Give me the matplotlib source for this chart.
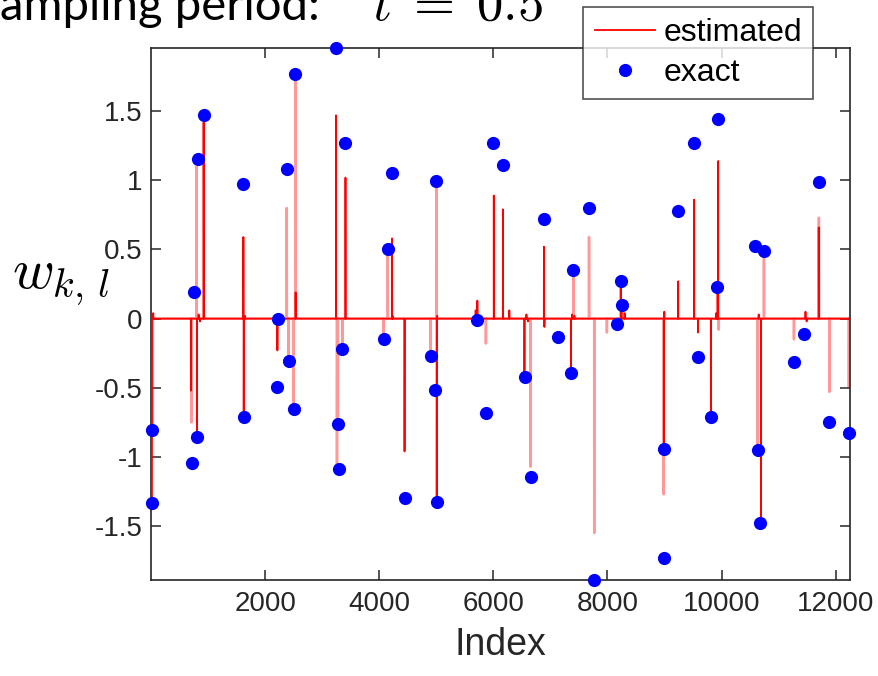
import numpy as np
import matplotlib
matplotlib.use("Agg")
import matplotlib.pyplot as plt
from matplotlib.lines import Line2D

plt.rcParams['font.family'] = ['Liberation Sans', 'DejaVu Sans']
plt.rcParams['mathtext.fontset'] = 'cm'
plt.rcParams['axes.unicode_minus'] = False

# ---- data ----
n_samples = 12250

exact_idx = [15, 25, 720, 760, 807, 830, 923, 1615, 1625, 2210, 2228, 2390, 2426,
             2508, 2526, 3243, 3274, 3291, 3356, 3409, 4081, 4152, 4216, 4449,
             4900, 4982, 5000, 5005, 5707, 5865, 6000, 6168, 6550, 6655, 6888,
             7133, 7361, 7403, 7677, 7765, 8175, 8233, 8263, 8982, 8994, 9239,
             9519, 9579, 9812, 9923, 9940, 10584, 10632, 10677, 10742, 11268,
             11444, 11702, 11888, 12233]
exact_val = [-0.805, -1.33, -1.046, 0.19, -0.853, 1.155, 1.47, 0.97, -0.71, -0.495,
             0.0, 1.084, -0.307, -0.655, 1.77, 1.957, -0.76, -1.09, -0.216, 1.27,
             -0.147, 0.50, 1.053, -1.294, -0.27, -0.515, 0.997, -1.327, -0.013,
             -0.685, 1.27, 1.11, -0.42, -1.147, 0.72, -0.13, -0.39, 0.35, 0.80,
             -1.89, -0.038, 0.27, 0.096, -0.944, -1.73, 0.78, 1.27, -0.28, -0.71,
             0.23, 1.447, 0.528, -0.947, -1.475, 0.49, -0.317, -0.109, 0.99,
             -0.749, -0.825]

# strong (solid) estimated spikes
est_idx = [10, 700, 807, 923, 1620, 1626, 2216, 3243, 3409, 4225, 4444, 5008,
           5720, 6008, 6168, 6545, 6886, 6895, 7360, 8232, 8990, 9239, 9519,
           9585, 9812, 9930, 9940, 10690, 11702,
           40, 835, 860, 1650, 2535, 4235, 5015, 5690, 6280, 6580, 6610, 7380,
           7420, 8245, 8300, 8996, 9905, 10650, 11470, 11490]
est_val = [-1.30, -0.52, -0.85, 1.42, 0.59, -0.71, -0.23, 1.47, 1.02, 0.58, -0.96,
           -1.31, 0.13, 0.89, 0.79, -0.42, 0.52, -0.06, -0.39, 0.22, -0.944, 0.27,
           0.86, -0.10, -0.71, 0.23, 1.14, -1.475, 0.66,
           0.04, 0.03, -0.02, 0.02, 0.19, 0.02, 0.02, 0.06, 0.06, 0.03, -0.02,
           0.03, 0.02, 0.09, 0.04, 0.05, 0.04, 0.03, 0.05, -0.02]

# weaker (faint) estimated spikes
faint_idx = [25, 710, 800, 2380, 2410, 2496, 2531, 3260, 3275, 3356, 4075, 4150,
             4900, 5000, 5870, 6650, 7405, 7677, 7768, 7990, 8985, 9950, 10632,
             10742, 11268, 11705, 11888, 12230]
faint_val = [-0.80, -0.75, 1.10, 0.80, -0.33, -0.62, 1.77, -1.07, -0.77, -0.22,
             -0.11, 0.49, -0.27, 0.95, -0.18, -1.07, 0.34, 0.59, -1.55, -0.10,
             -1.27, -0.08, -0.93, 0.49, -0.15, 0.73, -0.53, -0.495]

xticks = [2000, 4000, 6000, 8000, 10000, 12000]
yticks = [-1.5, -1, -0.5, 0, 0.5, 1, 1.5]
ytick_labels = ['-1.5', '-1', '-0.5', '0', '0.5', '1', '1.5']

# ---- build signals ----
index = np.arange(1, n_samples + 1)
est_signal = np.zeros(n_samples)
est_signal[np.array(est_idx) - 1] = est_val
faint_signal = np.zeros(n_samples)
faint_signal[np.array(faint_idx) - 1] = faint_val

# ---- figure ----
fig = plt.figure(figsize=(8.79, 6.76), dpi=100)
ax = fig.add_axes([151 / 879, 1 - 580 / 676, (850 - 151) / 879, (580 - 48) / 676])

red = '#FF0000'
blue = '#0000FF'
ax.plot(index, faint_signal, color=red, lw=1.8, alpha=0.4, zorder=2)
ax.plot(index, est_signal, color=red, lw=1.3, zorder=3)
ax.plot(exact_idx, exact_val, 'o', color=blue, markersize=9.5, markeredgewidth=0,
        zorder=4, clip_on=False)

ax.set_xlim(1, n_samples)
ax.set_ylim(min(exact_val), max(exact_val))
ax.set_xticks(xticks)
ax.set_xticklabels([str(t) for t in xticks])
ax.set_yticks(yticks)
ax.set_yticklabels(ytick_labels)

dark = '#262626'
for s in ax.spines.values():
    s.set_color(dark)
    s.set_linewidth(1.2)
ax.tick_params(direction='in', top=True, right=True, length=7, width=1.1,
               colors=dark, labelsize=20, pad=8)
ax.tick_params(axis='y', pad=6)

ax.set_xlabel('Index', fontsize=27, color=dark, labelpad=7)

fig.text(12 / 879, 1 - 288 / 676, r'$w_{k,\,l}$', fontsize=41, ha='left',
         va='baseline')

# cropped title (top of the line lies above the picture, as in the reference)
fig.text(0 / 879, 1 - 20 / 676, 'ampling period:', fontsize=34, family='Lato',
         ha='left', va='baseline')
fig.text(372 / 879, 1 - 20 / 676, r'$t\;=\;0.5$', fontsize=38, ha='left',
         va='baseline')

handles = [Line2D([], [], color=red, lw=1.3),
           Line2D([], [], ls='none', marker='o', color=blue, markersize=9.5,
                  markeredgewidth=0)]
leg = ax.legend(handles, ['estimated', 'exact'], loc='upper right',
                bbox_to_anchor=(813 / 879, 1 - 7 / 676),
                bbox_transform=fig.transFigure, fontsize=23, frameon=True,
                fancybox=False, handlelength=1.9, handletextpad=0.25,
                borderpad=0.35, labelspacing=0.3, borderaxespad=0)
leg.get_frame().set_edgecolor(dark)
leg.get_frame().set_linewidth(1.2)
leg.set_zorder(10)

fig.savefig('out.png', dpi=100)
